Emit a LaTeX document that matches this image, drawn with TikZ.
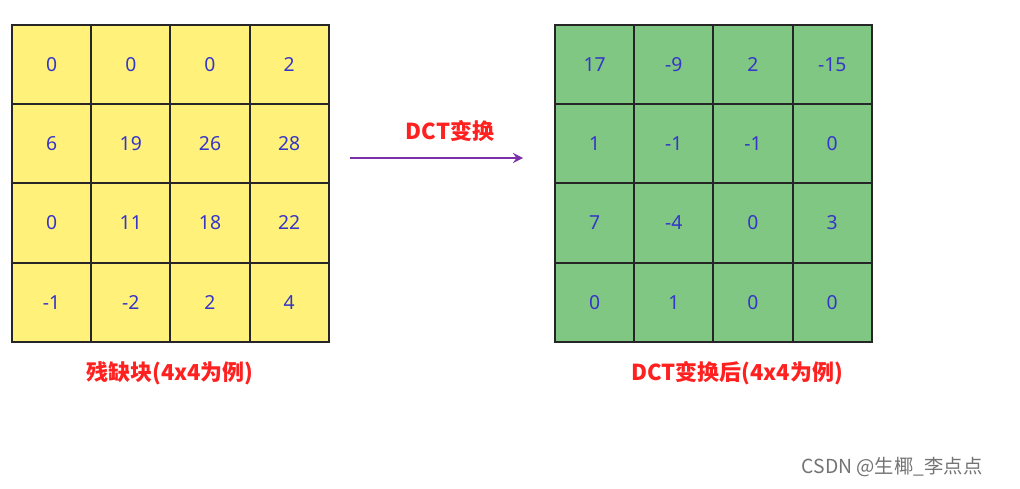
\documentclass[tikz,border=0pt]{standalone}
\usepackage{fontspec}
\setmainfont{Noto Sans}
\newfontfamily\cjk{Noto Sans CJK SC}
\definecolor{yel}{HTML}{FFF17A}
\definecolor{grn}{HTML}{80C783}
\definecolor{numc}{HTML}{3535C8}
\definecolor{redt}{HTML}{FF2020}
\definecolor{purp}{HTML}{7B2FA8}
\begin{document}
\begin{tikzpicture}[x=0.02cm,y=-0.02cm,
  cell/.style={draw=black!85,line width=1pt,minimum size=79*0.02cm,inner sep=0,font=\fontsize{11pt}{13pt}\selectfont,text=numc},
  captext/.style={font=\cjk\bfseries\fontsize{12.5pt}{14pt}\selectfont,text=redt}]
\useasboundingbox (0,0) rectangle (1020,489);
\foreach \r/\row in {0/{0,0,0,2},1/{6,19,26,28},2/{0,11,18,22},3/{-1,-2,2,4}}{
  \foreach \v [count=\c from 0] in \row {
    \node[cell,fill=yel] (L\r\c) at (51.6+79.2*\c,64.6+79.2*\r) {\v};}}
\foreach \r/\row in {0/{17,-9,2,-15},1/{1,-1,-1,0},2/{7,-4,0,3},3/{0,1,0,0}}{
  \foreach \v [count=\c from 0] in \row {
    \node[cell,fill=grn] (R\r\c) at (594.6+79.2*\c,64.6+79.2*\r) {\v};}}
\coordinate (a1) at (350,158);
\coordinate (a2) at (523,158);
\draw[purp,line width=1.5pt,-stealth] (a1) -- (a2);
\node[captext] (t) at (450,131) {DCT变换};
\node[captext] (c1) at (170,373) {残缺块(4x4为例)};
\node[captext] (c2) at (737,373) {DCT变换后(4x4为例)};
\node[font=\cjk\fontsize{11pt}{13pt}\selectfont,text=black!55] (w) at (892,467) {CSDN @生椰\_李点点};
\end{tikzpicture}
\end{document}
